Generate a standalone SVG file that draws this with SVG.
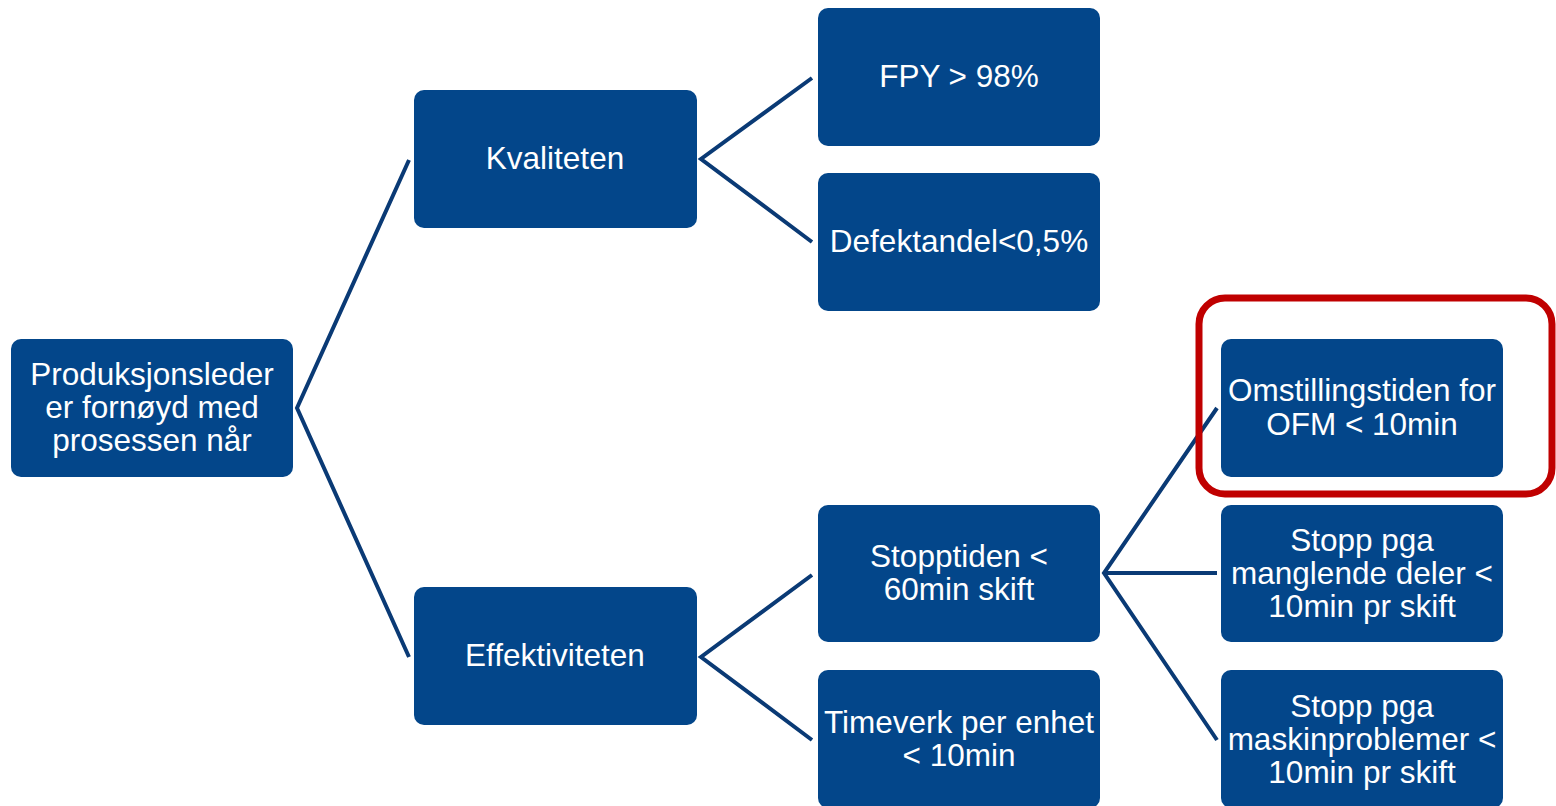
<svg xmlns="http://www.w3.org/2000/svg" width="1556" height="806" viewBox="0 0 1556 806">
<style>
.n{fill:#03468A;}
.t{fill:#FFFFFF;font-family:"Liberation Sans",Arial,sans-serif;font-size:31.5px;text-anchor:middle;}
.c{stroke:#0A3A75;stroke-width:4;fill:none;stroke-linejoin:miter;}
</style>
<rect width="1556" height="806" fill="#FFFFFF"/>
<g id="connectors">
<polyline class="c" points="409,160 297,408 409,657"/>
<polyline class="c" points="812,78 701,159 812,242"/>
<polyline class="c" points="812,575 701,657 812,740"/>
<polyline class="c" points="1217,408 1104,573 1217,740"/>
<line class="c" x1="1104" y1="573" x2="1217" y2="573"/>
</g>
<g id="root"><rect class="n" x="11" y="339" width="282" height="138" rx="10"/>
<text class="t" x="152" y="385">Produksjonsleder</text><text class="t" x="152" y="418">er fornøyd med</text><text class="t" x="152" y="451">prosessen når</text></g>
<g id="kvaliteten"><rect class="n" x="414" y="90" width="283" height="138" rx="10"/>
<text class="t" x="555" y="169">Kvaliteten</text></g>
<g id="effektiviteten"><rect class="n" x="414" y="587" width="283" height="138" rx="10"/>
<text class="t" x="555" y="666">Effektiviteten</text></g>
<g id="fpy"><rect class="n" x="818" y="8" width="282" height="138" rx="10"/>
<text class="t" x="959" y="87">FPY &gt; 98%</text></g>
<g id="defekt"><rect class="n" x="818" y="173" width="282" height="138" rx="10"/>
<text class="t" x="959" y="252">Defektandel&lt;0,5%</text></g>
<g id="stopptiden"><rect class="n" x="818" y="505" width="282" height="137" rx="10"/>
<text class="t" x="959" y="567">Stopptiden &lt;</text><text class="t" x="959" y="600">60min skift</text></g>
<g id="timeverk"><rect class="n" x="818" y="670" width="282" height="138" rx="10"/>
<text class="t" x="959" y="733">Timeverk per enhet</text><text class="t" x="959" y="766">&lt; 10min</text></g>
<g id="omstilling"><rect class="n" x="1221" y="339" width="282" height="138" rx="10"/>
<text class="t" x="1362" y="401">Omstillingstiden for</text><text class="t" x="1362" y="435">OFM &lt; 10min</text></g>
<g id="stopp-deler"><rect class="n" x="1221" y="505" width="282" height="137" rx="10"/>
<text class="t" x="1362" y="551">Stopp pga</text><text class="t" x="1362" y="584">manglende deler &lt;</text><text class="t" x="1362" y="617">10min pr skift</text></g>
<g id="stopp-maskin"><rect class="n" x="1221" y="670" width="282" height="138" rx="10"/>
<text class="t" x="1362" y="717">Stopp pga</text><text class="t" x="1362" y="750">maskinproblemer &lt;</text><text class="t" x="1362" y="783">10min pr skift</text></g>
<g id="highlight"><rect x="1199" y="298" width="353" height="196" rx="26" fill="none" stroke="#C00000" stroke-width="7"/></g>
</svg>
